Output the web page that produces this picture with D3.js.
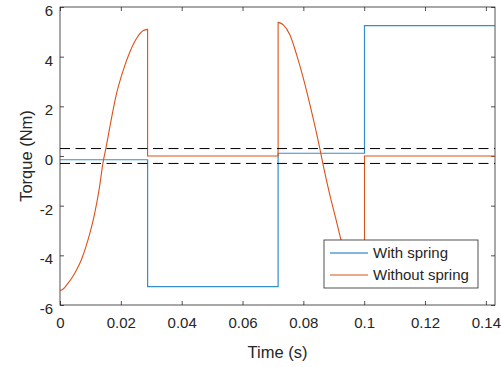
<!doctype html>
<html lang="en">
<head>
  <meta charset="utf-8">
  <script src="https://cdn.jsdelivr.net/npm/d3@7"></script>
  <style>
    body { margin: 0; background: #fff; }
    svg text { font-family: "Liberation Sans", Arial, sans-serif; fill: #262626; }
  </style>
</head>
<body>
  <svg id="chart" width="501" height="367"></svg>
  <script>
    // axis ranges and ticks
    const xDomain = [0, 0.143];
    const yDomain = [-6, 6];
    const xTicks = [0, 0.02, 0.04, 0.06, 0.08, 0.1, 0.12, 0.14];
    const xTickLabels = ["0", "0.02", "0.04", "0.06", "0.08", "0.1", "0.12", "0.14"];
    const yTicks = [-6, -4, -2, 0, 2, 4, 6];
    const yTickLabels = ["-6", "-4", "-2", "0", "2", "4", "6"];
    const limitBand = [-0.3, 0.3];

    // With spring (step response)
    const springT = [0, 0.0288, 0.0288, 0.0717, 0.0717, 0.1001, 0.1001, 0.143];
    const springV = [-0.15, -0.15, -5.26, -5.26, 0.11, 0.11, 5.25, 5.25];

    // Without spring (repeated times are the jumps)
    const noSpringT = [0, 0.0004, 0.0026, 0.0048, 0.0070, 0.0092, 0.0114, 0.0130, 0.0141, 0.0151,
      0.0164, 0.0186, 0.0208, 0.0230, 0.0252, 0.0274, 0.0288, 0.0288, 0.0717, 0.0717,
      0.0734, 0.0756, 0.0778, 0.0800, 0.0822, 0.0854, 0.0865, 0.0887, 0.0909, 0.0923,
      0.0945, 0.0970, 0.1001, 0.1001, 0.143];
    const noSpringV = [-5.40, -5.40, -5.13, -4.73, -4.19, -3.38, -2.31, -1.24, -0.30, 0.32,
      1.18, 2.52, 3.46, 4.20, 4.74, 5.05, 5.10, 0, 0, 5.38,
      5.28, 4.87, 4.07, 3.13, 2.05, 0.31, -0.36, -1.57, -2.64, -3.34,
      -4.1, -4.8, -5.2, 0, 0];

    const seriesNames = ["With spring", "Without spring"];
    const colors = ["#0072BD", "#D95319"];

    const svg = d3.select("#chart");
    const m = { left: 60, top: 7, right: 6, bottom: 62 };
    const W = 501, H = 367;
    const x = d3.scaleLinear().domain(xDomain).range([m.left, W - m.right]);
    const y = d3.scaleLinear().domain(yDomain).range([H - m.bottom, m.top]);

    const axisColor = "#262626";

    // axes (ticks inside, box on)
    svg.append("g")
        .attr("transform", "translate(0," + (H - m.bottom) + ")")
        .call(d3.axisBottom(x).tickValues(xTicks).tickSize(-4).tickPadding(12)
          .tickFormat((d, i) => xTickLabels[i]));
    svg.append("g")
        .attr("class", "yaxis")
        .attr("transform", "translate(" + m.left + ",0)")
        .call(d3.axisLeft(y).tickValues(yTicks).tickSize(-4).tickPadding(7)
          .tickFormat((d, i) => yTickLabels[i]));
    svg.append("g")
        .attr("transform", "translate(0," + m.top + ")")
        .call(d3.axisTop(x).tickValues(xTicks).tickSize(-4).tickFormat(""));
    svg.append("g")
        .attr("transform", "translate(" + (W - m.right) + ",0)")
        .call(d3.axisRight(y).tickValues(yTicks).tickSize(-4).tickFormat(""));

    svg.selectAll(".domain").remove();
    svg.selectAll(".tick line").attr("stroke", axisColor).attr("stroke-width", 0.8);
    svg.selectAll(".tick text").style("font-size", "15px").attr("fill", axisColor);
    svg.selectAll(".yaxis .tick text").attr("dy", "0.56em");

    svg.append("rect")
        .attr("x", m.left).attr("y", m.top)
        .attr("width", W - m.left - m.right).attr("height", H - m.top - m.bottom)
        .attr("fill", "none").attr("stroke", axisColor).attr("stroke-width", 0.8);

    const line = d3.line().x(d => x(d[0])).y(d => y(d[1]));
    const smooth = d3.line().x(d => x(d[0])).y(d => y(d[1])).curve(d3.curveMonotoneX);

    // split a series into runs at the jumps, smooth each run, join them with straight jumps
    function jumpPath(ts, vs) {
      const pts = d3.zip(ts, vs);
      const runs = [[pts[0]]];
      for (let i = 1; i < pts.length; i++) {
        if (pts[i][0] === pts[i - 1][0]) runs.push([pts[i]]);
        else runs[runs.length - 1].push(pts[i]);
      }
      return runs.map((r, i) => {
        const s = r.length > 1 ? smooth(r) : line(r.concat([r[0]]));
        return i === 0 ? s : "L" + s.slice(1);
      }).join("");
    }

    svg.append("path")
        .attr("d", line(d3.zip(springT, springV)))
        .attr("fill", "none").attr("stroke", colors[0]).attr("stroke-width", 1.2).attr("stroke-opacity", 0.8);

    svg.append("path")
        .attr("d", jumpPath(noSpringT, noSpringV))
        .attr("fill", "none").attr("stroke", colors[1]).attr("stroke-width", 1.1);

    // dashed limits
    svg.selectAll(".limit")
      .data(limitBand)
      .enter()
      .append("line")
        .attr("x1", x(xDomain[0])).attr("x2", x(xDomain[1]))
        .attr("y1", d => y(d)).attr("y2", d => y(d))
        .attr("stroke", "#000").attr("stroke-width", 1).attr("stroke-dasharray", "10,5.5");

    // axis labels
    svg.append("text")
        .attr("x", (m.left + W - m.right) / 2).attr("y", 358)
        .style("text-anchor", "middle").style("font-size", "16.5px")
        .text("Time (s)");
    svg.append("text")
        .attr("transform", "rotate(-90)")
        .attr("x", -y(0)).attr("y", 32)
        .style("text-anchor", "middle").style("font-size", "16.5px")
        .text("Torque (Nm)");

    // legend
    const lg = svg.append("g").attr("transform", "translate(324,240)");
    lg.append("rect")
        .attr("width", 154).attr("height", 48)
        .attr("fill", "#fff").attr("stroke", axisColor).attr("stroke-width", 0.8);
    seriesNames.forEach((name, i) => {
      const yy = 13 + i * 22;
      lg.append("line")
          .attr("x1", 6).attr("x2", 44).attr("y1", yy).attr("y2", yy)
          .attr("stroke", colors[i]).attr("stroke-width", 1.1);
      lg.append("text")
          .attr("x", 49).attr("y", yy + 5)
          .style("font-size", "15px")
          .text(name);
    });
  </script>
</body>
</html>
